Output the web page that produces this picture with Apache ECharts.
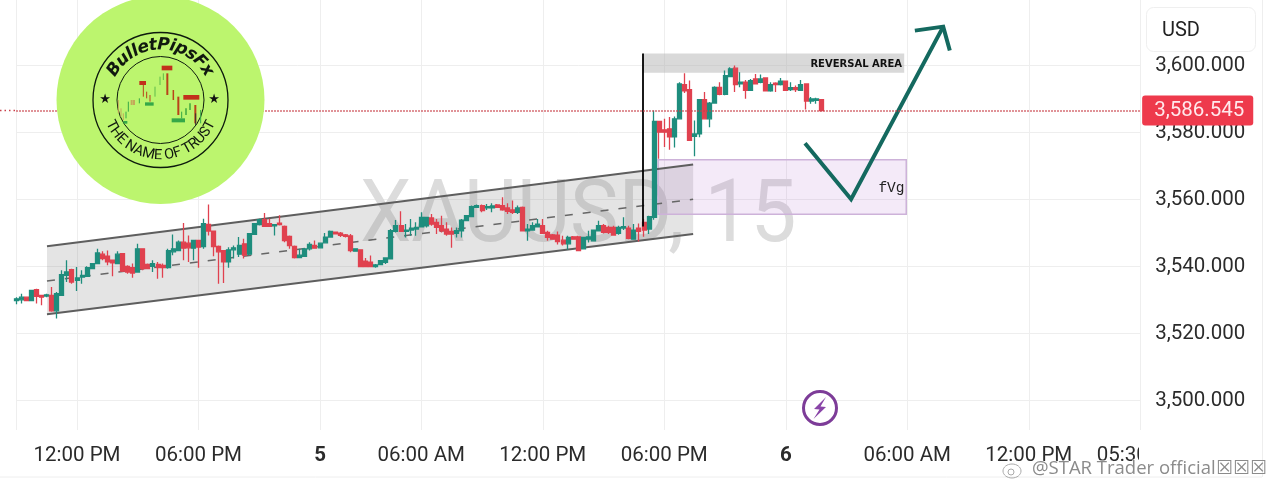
<!DOCTYPE html>
<html><head><meta charset="utf-8">
<script src="https://cdn.jsdelivr.net/npm/echarts@6/dist/echarts.min.js"></script>
<style>html,body{margin:0;padding:0;background:#fff}#c{width:1280px;height:502px}</style>
</head><body><div id="c"></div>
<script>
const opens=[3529.9,3530.1,3530.9,3529.9,3533.1,3531.4,3531.2,3531.4,3526.8,3531.4,
3537.4,3539.1,3535.9,3536.9,3537.1,3539.4,3540.9,3543.7,3543.1,3541.9,
3540.9,3543.9,3540.1,3539.7,3538.4,3545.3,3540.7,3540.1,3540.7,3540.4,
3539.7,3544.4,3544.8,3547.3,3547.0,3545.5,3547.8,3546.0,3552.6,3550.6,
3546.0,3544.8,3541.4,3545.0,3543.7,3546.8,3543.7,3549.6,3552.5,3554.0,
3552.8,3552.2,3553.0,3552.0,3549.0,3546.0,3542.7,3543.1,3545.3,3546.3,
3545.6,3547.1,3548.8,3550.3,3550.0,3549.5,3549.2,3544.6,3545.0,3541.6,
3541.3,3540.0,3540.6,3541.3,3542.3,3550.5,3552.2,3550.5,3550.9,3551.2,
3551.9,3552.2,3554.5,3553.2,3552.2,3551.2,3550.5,3549.9,3550.7,3553.7,
3554.9,3557.7,3558.2,3557.5,3557.5,3558.4,3558.2,3557.5,3556.9,3556.2,
3557.7,3550.7,3550.9,3551.9,3552.2,3550.2,3549.5,3549.4,3547.9,3546.8,
3548.9,3548.9,3545.3,3548.2,3547.7,3550.7,3552.2,3551.7,3551.7,3549.9,
3551.5,3551.5,3548.2,3551.5,3553.2,3551.2,3554.7,3583.3,3580.8,3581.1,
3578.7,3584.1,3594.3,3592.8,3578.9,3579.6,3589.8,3584.1,3588.8,3593.5,
3591.4,3596.7,3599.2,3594.5,3595.0,3592.6,3596.0,3595.0,3596.3,3592.4,
3594.7,3594.3,3595.3,3592.8,3593.4,3592.6,3594.5,3589.4,3589.6,3589.8];
const closes=[3530.4,3530.9,3529.9,3532.9,3531.1,3530.9,3531.6,3526.8,3531.9,3537.6,
3538.4,3535.4,3536.6,3537.4,3539.7,3540.9,3544.1,3542.4,3541.4,3541.1,
3543.7,3538.7,3538.4,3538.1,3545.3,3539.4,3539.4,3540.9,3539.7,3539.7,
3544.8,3545.3,3547.3,3545.5,3545.6,3547.8,3545.8,3552.8,3550.6,3546.0,
3544.4,3541.4,3545.0,3545.6,3546.3,3543.4,3549.8,3552.8,3554.0,3552.0,
3552.0,3552.5,3552.5,3547.8,3546.3,3542.7,3543.4,3545.3,3546.6,3545.5,
3547.0,3548.8,3550.5,3549.8,3549.3,3549.0,3544.8,3545.3,3540.0,3540.0,
3540.0,3540.5,3541.8,3542.6,3550.7,3552.2,3550.5,3550.9,3551.5,3551.7,
3554.7,3554.7,3552.7,3551.7,3550.7,3549.7,3549.7,3550.7,3553.9,3555.2,
3557.9,3558.2,3556.7,3557.9,3558.1,3557.7,3556.9,3556.5,3556.2,3557.5,
3550.7,3551.2,3552.2,3552.7,3549.9,3548.7,3548.2,3547.5,3546.8,3548.7,
3548.2,3544.8,3548.7,3548.9,3550.9,3552.2,3550.2,3550.2,3549.4,3551.7,
3551.9,3548.4,3550.9,3550.5,3550.9,3554.9,3583.3,3580.1,3580.1,3578.7,
3584.1,3594.5,3592.4,3577.7,3579.6,3589.8,3584.1,3588.8,3593.5,3591.4,
3597.0,3599.0,3594.3,3595.0,3592.6,3595.5,3594.5,3596.0,3592.4,3594.3,
3594.3,3595.3,3592.6,3593.4,3592.8,3594.3,3589.4,3590.0,3590.0,3586.545];
const lows=[3528.8,3529.0,3529.8,3529.8,3529.0,3528.5,3530.9,3526.5,3524.5,3531.4,
3535.4,3534.9,3532.7,3534.9,3536.9,3539.3,3540.9,3541.9,3540.4,3537.1,
3540.7,3538.4,3537.9,3536.7,3538.4,3538.9,3539.2,3538.4,3536.4,3536.7,
3539.4,3543.4,3544.6,3541.9,3541.4,3541.9,3539.7,3545.3,3549.3,3543.1,
3534.9,3535.1,3539.7,3542.4,3542.9,3542.4,3543.4,3549.5,3552.3,3551.8,
3551.8,3549.3,3552.3,3547.3,3545.3,3542.4,3542.7,3542.9,3544.8,3545.3,
3545.4,3547.0,3548.8,3549.6,3548.8,3548.7,3544.3,3544.4,3539.8,3539.8,
3539.8,3539.7,3540.4,3540.8,3542.3,3550.2,3550.5,3548.7,3549.2,3549.2,
3551.7,3551.7,3552.2,3549.7,3550.2,3549.2,3545.6,3548.7,3548.7,3553.5,
3554.7,3557.5,3556.2,3556.9,3556.2,3557.5,3556.7,3555.7,3555.7,3555.7,
3550.5,3547.7,3550.7,3551.7,3549.7,3547.7,3548.0,3546.6,3546.3,3545.0,
3548.0,3544.6,3545.1,3547.2,3547.5,3550.5,3549.9,3549.7,3549.2,3549.5,
3550.9,3548.2,3548.0,3547.5,3548.9,3549.7,3554.0,3572.2,3575.7,3574.9,
3575.5,3584.1,3591.8,3577.7,3572.9,3578.6,3583.9,3581.6,3588.6,3591.1,
3591.1,3596.5,3592.1,3593.5,3590.1,3592.4,3594.3,3594.7,3592.4,3592.2,
3592.1,3594.0,3592.4,3592.4,3592.1,3592.4,3586.9,3588.6,3588.6,3586.3];
const highs=[3530.9,3531.9,3531.0,3533.0,3533.4,3531.4,3531.9,3533.9,3532.4,3538.9,
3541.9,3539.4,3539.9,3538.9,3540.1,3541.1,3545.3,3544.6,3544.8,3542.1,
3544.6,3544.1,3540.4,3540.9,3546.8,3545.3,3540.9,3541.9,3541.4,3540.9,
3545.3,3549.6,3547.8,3553.0,3549.3,3547.8,3548.0,3554.3,3558.5,3550.8,
3546.3,3544.8,3545.8,3546.3,3548.8,3548.3,3550.0,3553.0,3554.3,3556.0,
3554.3,3552.5,3555.3,3552.3,3549.3,3546.3,3545.3,3545.5,3547.3,3547.8,
3547.2,3550.0,3550.8,3550.5,3550.3,3549.7,3549.7,3545.5,3545.2,3542.6,
3543.3,3540.8,3542.0,3542.6,3551.2,3553.9,3556.5,3552.7,3554.2,3553.2,
3556.2,3554.7,3555.7,3554.2,3555.2,3553.2,3551.7,3551.7,3554.2,3555.4,
3558.2,3558.5,3558.5,3558.7,3558.9,3558.7,3560.7,3558.9,3559.7,3558.2,
3557.9,3552.7,3553.2,3554.2,3554.2,3550.7,3549.7,3550.5,3549.2,3549.2,
3549.1,3549.2,3548.9,3550.7,3551.1,3553.7,3552.7,3552.2,3552.2,3552.2,
3554.7,3552.2,3552.7,3552.9,3554.2,3555.2,3586.6,3583.3,3584.1,3584.6,
3584.8,3595.0,3597.7,3595.5,3583.6,3589.8,3592.1,3589.1,3593.8,3595.0,
3598.5,3599.5,3600.0,3598.0,3595.7,3596.0,3597.5,3597.3,3596.5,3595.0,
3595.0,3596.3,3595.5,3595.0,3594.0,3595.7,3594.7,3590.6,3590.4,3590.0];

const barSlots=223;
const tickIndex=[12,36,60,80,104,128,152,176,200,222];
const tickLabels=['12:00 PM','06:00 PM','5','06:00 AM','12:00 PM','06:00 PM','6','06:00 AM','12:00 PM','05:30 PM'];
const priceTicks=[3500,3520,3540,3560,3580,3600];
const lastPrice=3586.545;
const channelX=[6.07,133.7];
const channelUpper=[3546.1,3570.5];
const channelMid=[3535.7,3560.1];
const channelLower=[3525.8,3549.7];
const fvgX=[126.8,175.8];
const fvgPrice=[3555.6,3571.9];
const reversalX=[123.8,175.4];
const reversalPrice=[3597.8,3603.6];
const spikeX=[123.8,123.8];
const spikePrice=[3603.6,3552.0];
const pathX=[155.8,164.9,183.1];
const pathPrice=[3576.8,3560.1,3611.6];
const headX=[177.5,183.1,184.4];
const headPrice=[3610.4,3611.6,3604.5];

const categories=Array.from({length:barSlots},(_,i)=>{const k=tickIndex.indexOf(i);return k>=0?tickLabels[k]:String(i);});
const candles=opens.map((o,i)=>[o,closes[i],lows[i],highs[i]]);
const UP='#1e8d7d',DOWN='#e0414f';
const FONT='Roboto, sans-serif';
const fmt=v=>v.toLocaleString('en-US',{minimumFractionDigits:3,maximumFractionDigits:3});

function xy(api,x,v){
  const f=Math.floor(x),a=api.coord([f,v]),b=api.coord([f+1,v]);
  return [a[0]+(x-f)*(b[0]-a[0]),a[1]];
}
function overlay(z,fn){
  return {type:'custom',coordinateSystem:'cartesian2d',z,silent:true,clip:false,data:[[0,3600]],encode:{x:0,y:1},renderItem:(p,api)=>({type:'group',children:fn(api)})};
}
const poly=(api,xs,ys)=>xs.map((x,i)=>xy(api,x,ys[i]));
const rectPts=(api,xs,ys)=>[xy(api,xs[0],ys[0]),xy(api,xs[1],ys[0]),xy(api,xs[1],ys[1]),xy(api,xs[0],ys[1])];

const series=[
 overlay(1.6,api=>[
  {type:'polygon',shape:{points:[xy(api,channelX[0],channelUpper[0]),xy(api,channelX[1],channelUpper[1]),xy(api,channelX[1],channelLower[1]),xy(api,channelX[0],channelLower[0])]},style:{fill:'rgba(130,130,130,0.22)'}},
  {type:'polygon',shape:{points:rectPts(api,fvgX,fvgPrice)},style:{fill:'rgba(170,90,200,0.13)',stroke:'#cdb2d9',lineWidth:1.5}},
  {type:'polygon',shape:{points:rectPts(api,reversalX,reversalPrice)},style:{fill:'rgba(170,170,170,0.45)'}},
  {type:'polyline',shape:{points:poly(api,channelX,channelUpper)},style:{stroke:'#5e5e5e',lineWidth:2,fill:null}},
  {type:'polyline',shape:{points:poly(api,channelX,channelLower)},style:{stroke:'#5e5e5e',lineWidth:2,fill:null}},
  {type:'polyline',shape:{points:poly(api,channelX,channelMid)},style:{stroke:'#666',lineWidth:1.5,lineDash:[8,10],fill:null}}
 ]),
 {type:'candlestick',data:candles,barWidth:4.5,z:3,
  itemStyle:{color:UP,color0:DOWN,borderColor:UP,borderColor0:DOWN,borderWidth:1.3},
  markLine:{silent:true,symbol:'none',animation:false,precision:3,lineStyle:{color:'#c9404a',type:'dotted',width:1.5},
   label:{position:'end',distance:2,formatter:()=>fmt(lastPrice),fontFamily:FONT,fontSize:20.5,color:'#ffe9ec',backgroundColor:'#ee3a4c',borderRadius:3,padding:[5,9,4,12]},
   data:[{yAxis:lastPrice}]}},
 overlay(4,api=>[
  {type:'polyline',shape:{points:poly(api,spikeX,spikePrice)},style:{stroke:'#000',lineWidth:1.8,fill:null}},
  {type:'polyline',shape:{points:poly(api,pathX,pathPrice)},style:{stroke:'#14695f',lineWidth:4,fill:null,lineJoin:'miter'}},
  {type:'polyline',shape:{points:poly(api,headX,headPrice)},style:{stroke:'#14695f',lineWidth:4,fill:null,lineJoin:'miter'}}
 ])
];

/* logo pieces */
const cx=160.5,cy=100;
const mc=document.createElement('canvas').getContext('2d');
function arcText(str,font,size,weight,style,r,span,bottom,color){
  mc.font=`${style} ${weight} ${size}px ${font}`;
  const w=[...str].map(c=>mc.measureText(c).width),tot=w.reduce((a,b)=>a+b,0);
  const gap=(span-tot/r)/(str.length-1);
  let a=-span/2;const out=[];
  [...str].forEach((c,i)=>{
    const t=a+w[i]/r/2;
    const x=cx+r*Math.sin(t),y=bottom?cy+r*Math.cos(t):cy-r*Math.cos(t);
    out.push({type:'text',z:10,x,y,rotation:bottom?t:-t,style:{text:c,x:0,y:0,align:'center',verticalAlign:'middle',font:`${style} ${weight} ${size}px ${font}`,fill:color}});
    a+=w[i]/r+gap;
  });
  return out;
}
const G='#35a848',R='#b9431a',O='#c4a85a',LG='#5fbb4a';
const stick=(X,a,b,col,lw)=>({type:'line',z:10,shape:{x1:110+X/3,y1:60+a/3,x2:110+X/3,y2:60+b/3},style:{stroke:col,lineWidth:lw||1}});
const tag=(X,Y,W,H,f)=>({type:'rect',z:10,shape:{x:110+X/3,y:60+Y/3,width:W/3,height:H/3},style:{fill:f}});
const logoSticks=[[25,120,160,O],[33,145,170,O],[40,160,180,O],[48,155,175,G],[55,125,155,G],[65,120,135,O,2],[72,120,135,O,2],[88,115,130,G],
 [100,70,110,R],[110,95,115,R],[120,105,125,R],[135,80,110,LG],[150,50,75,LG],[160,40,60,LG],[172,40,105,R,2],[190,90,120,R,1.5],[205,110,165,R,2],
 [215,155,175,G],[228,145,165,LG,2],[240,130,150,LG,2],[256,135,190,R,2],[257,160,195,'#333'],[272,150,190,G]];
const logoTags=[[88,63,20,12,'#c2301c'],[155,17,32,14,'#c2301c'],[220,105,48,14,'#c2301c'],[105,127,26,10,G],[185,175,40,12,G],[40,183,12,8,G]];
const logo=[
 {type:'circle',z:9,shape:{cx,cy,r:104},style:{fill:'#bcf56e'}},
 {type:'circle',z:10,shape:{cx,cy,r:67.5},style:{fill:'none',stroke:'#0d1a0d',lineWidth:1.3}},
 {type:'circle',z:10,shape:{cx,cy,r:43.5},style:{fill:'none',stroke:'#0d1a0d',lineWidth:1}},
 ...arcText('BulletPipsFx','"DejaVu Sans"',17,'bold','italic',55,2.2,false,'#10180f'),
 ...arcText('THE NAME OF TRUST','Roboto',14.5,'normal','normal',55.5,2.35,true,'#10180f'),
 {type:'text',z:10,x:105,y:100,style:{text:'★',align:'center',verticalAlign:'middle',font:'13px "DejaVu Sans"',fill:'#111'}},
 {type:'text',z:10,x:214,y:100,style:{text:'★',align:'center',verticalAlign:'middle',font:'13px "DejaVu Sans"',fill:'#111'}},
 ...logoSticks.map(s=>stick(s[0],s[1],s[2],s[3],s[4])),
 ...logoTags.map(t=>tag(t[0],t[1],t[2],t[3],t[4]))
];

const graphic=[
 {type:'text',x:360,y:175.5,z:1,silent:true,scaleX:0.94,style:{text:'XAUUSD, 15',font:`87px ${FONT}`,fill:'#dcdcdc'}},
 {type:'group',silent:true,children:logo},
 {type:'line',z:0,shape:{x1:0,y1:477,x2:1262,y2:477},style:{stroke:'#eeeeee',lineWidth:1}},
 {type:'line',z:0,shape:{x1:1262.5,y1:0,x2:1262.5,y2:477},style:{stroke:'#eeeeee',lineWidth:1}},
 {type:'rect',z:20,shape:{x:1139,y:436,width:122,height:40},style:{fill:'#fff'}},
 {type:'rect',z:20,shape:{x:1146.5,y:7.5,width:109,height:44,r:7},style:{fill:'#fff',stroke:'#efefef',lineWidth:1}},
 {type:'text',z:21,x:1162,y:31,style:{text:'USD',align:'left',verticalAlign:'middle',font:`20px ${FONT}`,fill:'#222'}},
 {type:'text',z:21,x:902,y:64,style:{text:'REVERSAL AREA',align:'right',verticalAlign:'middle',font:'bold 10px "DejaVu Sans"',fill:'#111'}},
 {type:'text',z:21,x:904.5,y:188,style:{text:'fVg',align:'right',verticalAlign:'middle',font:'14.5px "Liberation Mono"',fill:'#222'}},
 {type:'circle',z:21,shape:{cx:820,cy:408,r:16.5},style:{fill:'#fff',stroke:'#7d3c98',lineWidth:3}},
 {type:'polygon',z:21,shape:{points:[[826,397],[814,409],[819.5,409.5],[813.5,419],[826,407],[820.5,406.5]]},style:{fill:'#8a45a8'}},
 {type:'line',z:2,shape:{x1:0,y1:110.6,x2:16,y2:110.6},style:{stroke:'#c9404a',lineWidth:1.5,lineDash:[1.5,3]}},
 {type:'text',z:30,x:1032,y:469,style:{text:'@STAR Trader official',align:'left',verticalAlign:'middle',font:'18.5px "Open Sans"',fill:'#8b8b8b',stroke:'#fff',lineWidth:1}},
 {type:'text',z:30,x:1216,y:469,style:{text:'☒☒☒',align:'left',verticalAlign:'middle',font:'19px "DejaVu Sans"',fill:'#8b8b8b'}},
 {type:'ellipse',z:30,shape:{cx:1012,cy:471,rx:9,ry:7},style:{fill:'none',stroke:'#aaa',lineWidth:1}},
 {type:'circle',z:30,shape:{cx:1011,cy:472,r:3},style:{fill:'none',stroke:'#aaa',lineWidth:1}}
];

const chart=echarts.init(document.getElementById('c'),null,{renderer:'canvas'});
chart.setOption({
 animation:false,backgroundColor:'#fff',
 grid:{left:16.25,width:1123.9,top:0,height:430,containLabel:false},
 xAxis:{type:'category',data:categories,boundaryGap:false,
  axisLine:{show:false},axisTick:{show:false},
  splitLine:{show:true,interval:i=>i===0||tickIndex.includes(i),lineStyle:{color:'#eeeeee',width:1}},
  axisLabel:{interval:i=>tickIndex.includes(i),margin:15,showMaxLabel:true,fontFamily:FONT,fontSize:20.5,color:'#2b2b2b',
   formatter:v=>(v==='5'||v==='6')?`{b|${v}}`:v,rich:{b:{fontFamily:FONT,fontSize:20.5,fontWeight:'bold',color:'#2b2b2b'}}}},
 yAxis:{type:'value',position:'right',scale:true,min:3491.26,max:3619.54,
  axisLine:{show:false},
  axisTick:{show:false,customValues:priceTicks},
  splitLine:{show:true,lineStyle:{color:'#eeeeee',width:1}},
  axisLabel:{customValues:priceTicks,margin:15,fontFamily:FONT,fontSize:20.5,color:'#2b2b2b',formatter:fmt}},
 series,graphic
});
</script></body></html>
